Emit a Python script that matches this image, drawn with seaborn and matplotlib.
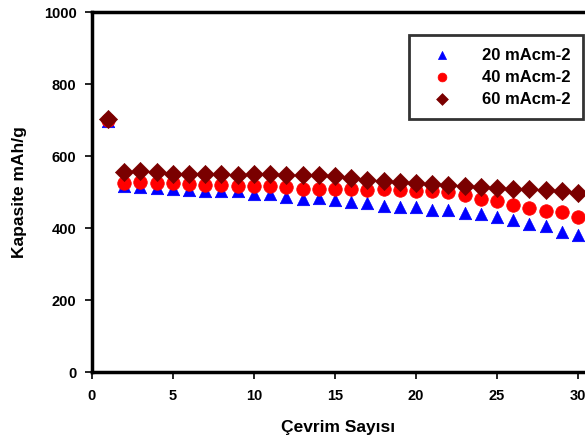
import numpy as np
import pandas as pd
import seaborn as sns
import matplotlib.pyplot as plt

# --- DATA ---
cycles = list(range(1, 31))
cap_20 = [697, 517, 515, 513, 508, 506, 503, 503, 503, 494, 496, 487, 482, 484, 478,
          473, 470, 461, 459, 459, 452, 450, 443, 441, 431, 424, 411, 406, 390, 381]
cap_40 = [700, 527, 529, 527, 527, 522, 519, 519, 517, 517, 517, 515, 510, 510, 508,
          508, 507, 508, 506, 504, 504, 501, 492, 482, 476, 464, 456, 448, 445, 431]
cap_60 = [703, 556, 559, 556, 550, 552, 550, 550, 547, 550, 550, 547, 547, 547, 544,
          540, 535, 531, 529, 527, 524, 519, 518, 515, 513, 510, 508, 506, 503, 498]
series_labels = ['20 mAcm-2', '40 mAcm-2', '60 mAcm-2']

df = pd.DataFrame({
    'Cevrim': cycles * 3,
    'Kapasite': cap_20 + cap_40 + cap_60,
    'Akim': [series_labels[0]] * 30 + [series_labels[1]] * 30 + [series_labels[2]] * 30,
})

colors = {'20 mAcm-2': '#0000FF', '40 mAcm-2': '#FF0000', '60 mAcm-2': '#7A0000'}
markers = {'20 mAcm-2': '^', '40 mAcm-2': 'o', '60 mAcm-2': 'D'}
sizes = {'20 mAcm-2': 80, '40 mAcm-2': 95, '60 mAcm-2': 85}

sns.set_theme(style="white")
plt.rcParams['font.family'] = ['Liberation Sans', 'DejaVu Sans']
plt.rcParams['text.color'] = 'black'
plt.rcParams['axes.labelcolor'] = 'black'
plt.rcParams['xtick.color'] = 'black'
plt.rcParams['ytick.color'] = 'black'

fig = plt.figure(figsize=(5.85, 4.41), dpi=100)
ax = fig.add_axes([0.157, 0.156, 0.843, 0.816])

for lab in series_labels:
    sub = df[df['Akim'] == lab]
    sns.scatterplot(data=sub, x='Cevrim', y='Kapasite', color=colors[lab], marker=markers[lab],
                    s=sizes[lab], edgecolor=colors[lab], linewidth=0.5, label=lab, ax=ax, zorder=3)

ax.set_xlim(0, 30.43)
ax.set_ylim(0, 1000)
ax.set_xticks([0, 5, 10, 15, 20, 25, 30])
ax.set_yticks([0, 200, 400, 600, 800, 1000])

for side in ['left', 'bottom', 'top']:
    ax.spines[side].set_linewidth(2.5)
    ax.spines[side].set_color('black')
ax.spines['right'].set_visible(False)

ax.tick_params(axis='both', direction='out', length=5, width=1.2, color='black',
               labelsize=10.5, bottom=True, left=True)
ax.tick_params(axis='x', pad=7)
ax.tick_params(axis='y', pad=6)
for t in ax.get_xticklabels() + ax.get_yticklabels():
    t.set_fontweight('bold')

ax.set_xlabel('Çevrim Sayısı', fontsize=12.5, fontweight='bold', labelpad=12)
ax.set_ylabel('Kapasite mAh/g', fontsize=12.5, fontweight='bold', labelpad=12)

leg = ax.legend(loc='upper right', bbox_to_anchor=(0.995, 0.937), frameon=True, fancybox=False,
                prop={'weight': 'bold', 'size': 12}, handletextpad=1.2, borderpad=0.75,
                labelspacing=0.42, markerscale=0.65, borderaxespad=0, handlelength=2.4)
leg.get_frame().set_edgecolor('black')
leg.get_frame().set_linewidth(2.0)

fig.savefig('out.png', dpi=100)
